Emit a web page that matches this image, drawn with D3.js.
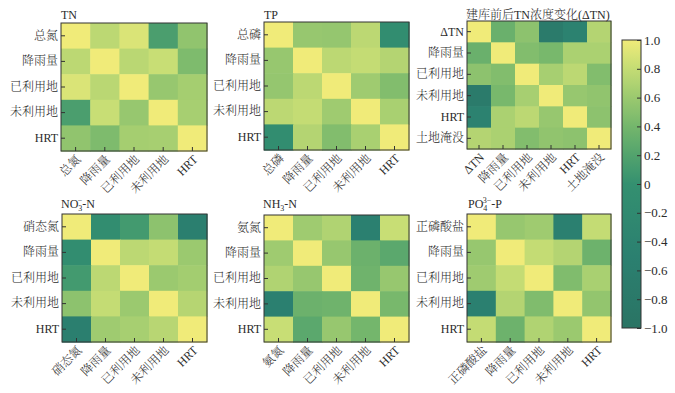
<!DOCTYPE html>
<html><head><meta charset="utf-8">
<script src="https://cdn.jsdelivr.net/npm/d3@7"></script>
<style>
html,body{margin:0;padding:0;background:#fff;}
svg text{fill:#2b2b2b;font-weight:300;}
</style></head>
<body><svg id="chart" width="675" height="393"></svg>
<script>
// ---- data ----
const tnLabels = ["总氮","降雨量","已利用地","未利用地","HRT"];
const tnValues = [
  [1.00,0.76,0.90,0.15,0.55],
  [0.76,1.00,0.75,0.82,0.45],
  [0.90,0.75,1.00,0.58,0.65],
  [0.15,0.82,0.58,1.00,0.66],
  [0.55,0.45,0.65,0.66,1.00]
];
const tpLabels = ["总磷","降雨量","已利用地","未利用地","HRT"];
const tpValues = [
  [1.00,0.58,0.57,0.76,-0.10],
  [0.58,1.00,0.76,0.80,0.72],
  [0.57,0.76,1.00,0.62,0.47],
  [0.76,0.80,0.62,1.00,0.67],
  [-0.10,0.72,0.47,0.67,1.00]
];
const dtnLabels = ["ΔTN","降雨量","已利用地","未利用地","HRT","土地淹没"];
const dtnValues = [
  [1.00,0.34,0.53,-0.70,-0.45,0.72],
  [0.34,1.00,0.47,0.42,0.68,0.68],
  [0.53,0.47,1.00,0.66,0.76,0.47],
  [-0.70,0.42,0.66,1.00,0.58,0.55],
  [-0.45,0.68,0.76,0.58,1.00,0.53],
  [0.72,0.68,0.47,0.55,0.53,1.00]
];
const no3Labels = ["硝态氮","降雨量","已利用地","未利用地","HRT"];
const no3Values = [
  [1.00,-0.10,0.10,0.53,-0.55],
  [-0.10,1.00,0.76,0.80,0.60],
  [0.10,0.76,1.00,0.60,0.64],
  [0.53,0.80,0.60,1.00,0.73],
  [-0.55,0.62,0.66,0.74,1.00]
];
const nh3Labels = ["氨氮","降雨量","已利用地","未利用地","HRT"];
const nh3Values = [
  [1.00,0.62,0.70,-0.50,0.82],
  [0.62,1.00,0.58,0.35,0.25],
  [0.70,0.58,1.00,0.37,0.58],
  [-0.50,0.35,0.37,1.00,0.42],
  [0.82,0.25,0.58,0.40,1.00]
];
const po4Labels = ["正磷酸盐","降雨量","已利用地","未利用地","HRT"];
const po4Values = [
  [1.00,0.58,0.62,-0.50,0.80],
  [0.58,1.00,0.80,0.72,0.36],
  [0.62,0.80,1.00,0.46,0.67],
  [-0.50,0.72,0.46,1.00,0.56],
  [0.80,0.36,0.70,0.60,1.00]
];
const colorbarTicks = [-1,-0.8,-0.6,-0.4,-0.2,0,0.2,0.4,0.6,0.8,1];
const colorStops = [-1,-0.5,0,0.2,0.4,0.6,0.8,1];
const colorRange = ["#2a7464","#2b8070","#349070","#52a36d","#74b66c","#9bc96f","#c4dc74","#f0eb79"];

// ---- layout ----
const FONT = '"Liberation Serif","Noto Serif CJK SC","Noto Sans CJK SC",serif';
const panels = [
  {labels:tnLabels, values:tnValues, box:[61,207,23,151], title:[{t:"TN"}], tx:61, ty:19},
  {labels:tpLabels, values:tpValues, box:[264,409,22,150], title:[{t:"TP"}], tx:264, ty:19},
  {labels:dtnLabels, values:dtnValues, box:[467,611,21,149], title:[{t:"建库前后TN浓度变化(ΔTN)"}], tx:466, ty:18.5},
  {labels:no3Labels, values:no3Values, box:[62,207,214,342],
    title:[{t:"NO"},{t:"3",fs:8,dy:3},{t:"−",fs:8,dx:-4.5,dy:-8},{t:"-N",dy:5}], tx:61, ty:208},
  {labels:nh3Labels, values:nh3Values, box:[264,409,215,342],
    title:[{t:"NH"},{t:"3",fs:8,dy:3},{t:"-N",dy:-3}], tx:263, ty:208},
  {labels:po4Labels, values:po4Values, box:[467,611,214,342],
    title:[{t:"PO"},{t:"4",fs:8,dy:3},{t:"3−",fs:8,dx:-4.5,dy:-8},{t:"-P",dy:5}], tx:468, ty:208}
];

const svg = d3.select("#chart");
const color = d3.scaleLinear().domain(colorStops).range(colorRange).interpolate(d3.interpolateRgb).clamp(true);

panels.forEach(p => {
  const [x0,x1,y0,y1] = p.box;
  const x = d3.scaleBand().domain(p.labels).range([x0,x1]).padding(0);
  const y = d3.scaleBand().domain(p.labels).range([y0,y1]).padding(0);
  const g = svg.append("g");
  const cells = [];
  p.values.forEach((row,i) => row.forEach((v,j) => cells.push({r:p.labels[i], c:p.labels[j], v})));
  g.selectAll("rect.cell").data(cells).join("rect")
    .attr("class","cell")
    .attr("x", d => x(d.c)).attr("y", d => y(d.r))
    .attr("width", x.bandwidth()+0.6).attr("height", y.bandwidth()+0.6)
    .attr("fill", d => color(d.v));
  const ya = g.append("g").attr("transform",`translate(${x0},0)`)
    .call(d3.axisLeft(y).tickSize(-4).tickPadding(3));
  ya.select(".domain").remove();
  ya.selectAll("text").attr("font-size",12);
  ya.selectAll("line").attr("stroke","#333");
  const xa = g.append("g").attr("transform",`translate(0,${y1})`)
    .call(d3.axisBottom(x).tickSize(-4));
  xa.select(".domain").remove();
  xa.selectAll("line").attr("stroke","#333");
  xa.selectAll("text").attr("font-size",12)
    .attr("y",null).attr("dy",null)
    .attr("text-anchor","end")
    .attr("transform","translate(6,9) rotate(-45)");
  g.append("rect").attr("x",x0).attr("y",y0).attr("width",x1-x0).attr("height",y1-y0)
    .attr("fill","none").attr("stroke","#333").attr("stroke-width",1);
  const t = g.append("text").attr("x",p.tx).attr("y",p.ty).attr("font-size",12);
  p.title.forEach(s => {
    const ts = t.append("tspan").text(s.t);
    if (s.fs) ts.attr("font-size",s.fs);
    if (s.dx) ts.attr("dx",s.dx);
    if (s.dy) ts.attr("dy",s.dy);
  });
});

// colorbar
const cbX = 622, cbW = 19, cbTop = 40, cbBot = 328;
const defs = svg.append("defs");
const grad = defs.append("linearGradient").attr("id","cbgrad").attr("x1",0).attr("y1",1).attr("x2",0).attr("y2",0);
const cbScale = d3.scaleLinear().domain([-1,1]).range([cbBot,cbTop]);
d3.range(0,41).map(i => -1 + i*0.05).forEach(v => {
  grad.append("stop").attr("offset",(v+1)/2).attr("stop-color",color(v));
});
svg.append("rect").attr("x",cbX).attr("y",cbTop).attr("width",cbW).attr("height",cbBot-cbTop)
  .attr("fill","url(#cbgrad)");
const ca = svg.append("g").attr("transform",`translate(${cbX+cbW},0)`)
  .call(d3.axisRight(cbScale).tickValues(colorbarTicks).tickSize(-4).tickPadding(3)
    .tickFormat(d => d === 0 ? "0" : d3.format(".1f")(d)));
ca.select(".domain").remove();
ca.selectAll("line").attr("stroke","#333");
ca.selectAll("text").attr("font-size",13);
svg.append("rect").attr("x",cbX).attr("y",cbTop).attr("width",cbW).attr("height",cbBot-cbTop)
  .attr("fill","none").attr("stroke","#333").attr("stroke-width",1);
svg.selectAll("g").attr("font-family",null);
svg.selectAll("text").style("font-family",FONT);
</script></body></html>
